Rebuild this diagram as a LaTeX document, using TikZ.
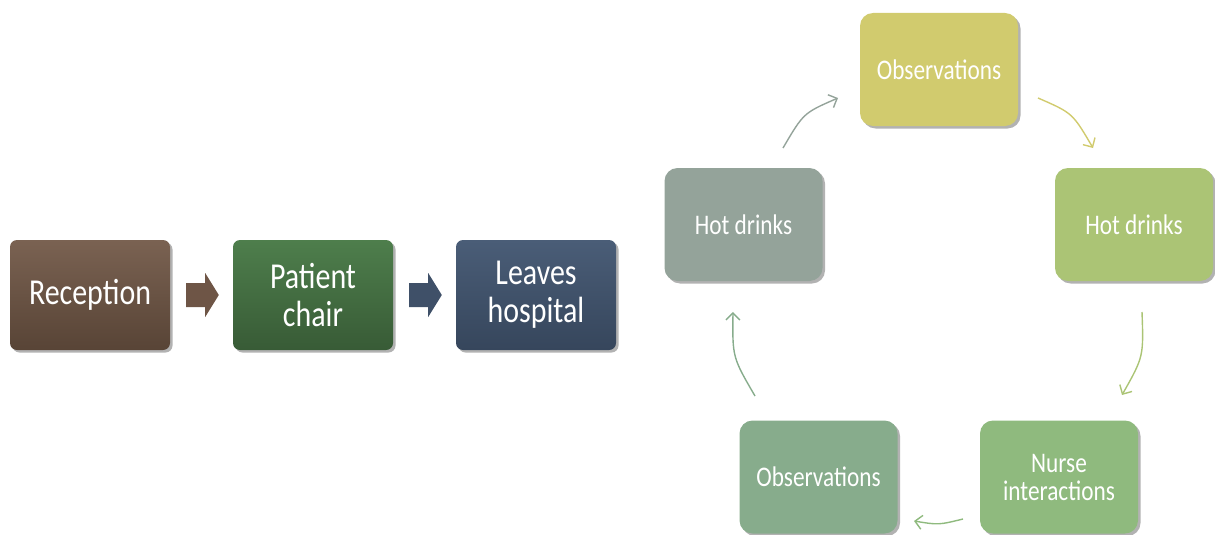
\documentclass[tikz,border=0pt]{standalone}
\usepackage{fontspec}
\setmainfont{Carlito}[FakeStretch=0.82]
\usetikzlibrary{calc,shadows,arrows.meta}
\definecolor{recA}{HTML}{7A6252}
\definecolor{recB}{HTML}{584436}
\definecolor{patA}{HTML}{4E7E4C}
\definecolor{patB}{HTML}{385B36}
\definecolor{leaA}{HTML}{4A5D77}
\definecolor{leaB}{HTML}{36465C}
\definecolor{arrBrown}{HTML}{6E5546}
\definecolor{arrSlate}{HTML}{3F5068}
\definecolor{cObsTop}{HTML}{D1CB6E}
\definecolor{cHotR}{HTML}{ABC475}
\definecolor{cNurse}{HTML}{8FBA7E}
\definecolor{cObsBot}{HTML}{87AC8C}
\definecolor{cHotL}{HTML}{94A39A}
\tikzset{
  flowbox/.style={rectangle, rounded corners=7pt, minimum width=160pt, minimum height=110pt,
    text=white, align=center, font=\fontsize{36.5}{38}\selectfont,
    drop shadow={shadow xshift=2.5pt, shadow yshift=-2.5pt, opacity=0.3, fill=black}},
  cyclebox/.style={rectangle, rounded corners=13pt, minimum width=158pt, minimum height=113pt,
    text=white, align=center, font=\fontsize{28.4}{28}\selectfont,
    drop shadow={shadow xshift=2.5pt, shadow yshift=-2.5pt, opacity=0.3, fill=black}},
  cyclearrow/.style={line width=1.4pt, -{Straight Barb[length=7pt,width=14pt]}}
}
\begin{document}
\begin{tikzpicture}[x=1pt,y=-1pt]
\useasboundingbox (0,0) rectangle (1215,535);
% left flow
\node[flowbox, top color=recA, bottom color=recB] (rec) at (90,295) {Reception};
\node[flowbox, top color=patA, bottom color=patB] (pat) at (313,295) {Patient\\chair};
\node[flowbox, top color=leaA, bottom color=leaB] (lea) at (536,295) {Leaves\\hospital};
\fill[arrBrown] ($(rec.east)+(16,-12)$) -- ($(rec.east)+(35,-12)$) -- ($(rec.east)+(35,-22)$)
  -- ($(pat.west)+(-14,0)$) -- ($(rec.east)+(35,22)$) -- ($(rec.east)+(35,12)$)
  -- ($(rec.east)+(16,12)$) -- cycle;
\fill[arrSlate] ($(pat.east)+(16,-12)$) -- ($(pat.east)+(35,-12)$) -- ($(pat.east)+(35,-22)$)
  -- ($(lea.west)+(-14,0)$) -- ($(pat.east)+(35,22)$) -- ($(pat.east)+(35,12)$)
  -- ($(pat.east)+(16,12)$) -- cycle;
% cycle
\node[cyclebox, fill=cObsTop] (obsT) at (939,69.5) {Observations};
\node[cyclebox, fill=cHotR] (hotR) at (1134,224.5) {Hot drinks};
\node[cyclebox, fill=cNurse] (nur) at (1059,477) {Nurse\\interactions};
\node[cyclebox, fill=cObsBot] (obsB) at (818.5,477) {Observations};
\node[cyclebox, fill=cHotL] (hotL) at (743.5,224.5) {Hot drinks};
\coordinate (a1s) at (783,148); \coordinate (a1e) at (838,98);
\coordinate (a2s) at (1038,98); \coordinate (a2e) at (1093,148);
\coordinate (a3s) at (1142,312); \coordinate (a3e) at (1122,395);
\coordinate (a4s) at (963,519); \coordinate (a4e) at (914,521);
\coordinate (a5s) at (755,396); \coordinate (a5e) at (733,312);
\draw[cyclearrow, cHotL] (a1s) .. controls (803.5,113) .. (a1e);
\draw[cyclearrow, cObsTop] (a2s) .. controls (1072.5,113) .. (a2e);
\draw[cyclearrow, cHotR] (a3s) .. controls (1143.6,356.7) .. (a3e);
\draw[cyclearrow, cNurse] (a4s) .. controls (938.5,525) .. (a4e);
\draw[cyclearrow, cObsBot] (a5s) .. controls (732.4,357.2) .. (a5e);
\end{tikzpicture}
\end{document}
